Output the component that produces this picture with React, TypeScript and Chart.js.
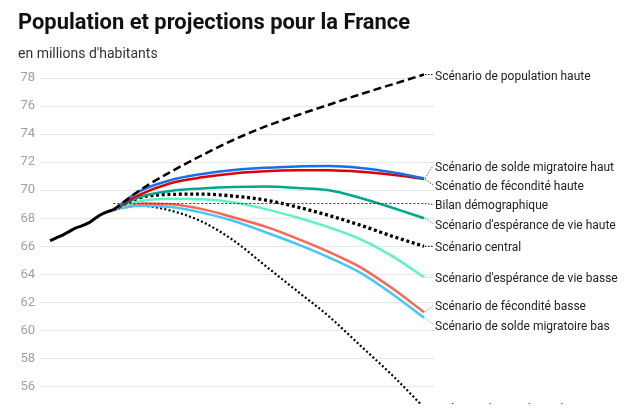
import React, { useRef, useEffect } from "react";
import { Chart, registerables } from "chart.js";

Chart.register(...registerables);

const histYears = [2011, 2012, 2013, 2014, 2015, 2016, 2017, 2018, 2019, 2020, 2021];
const histValues = [66.4, 66.6, 66.8, 67.05, 67.3, 67.45, 67.65, 67.95, 68.25, 68.45, 68.6];

const projYears = [2021, 2025, 2030, 2035, 2040, 2045, 2050, 2055, 2060, 2065, 2070];
const popHaute = [68.6, 69.95, 71.3, 72.5, 73.6, 74.55, 75.35, 76.1, 76.85, 77.55, 78.25];
const soldeHaut = [68.6, 69.9, 70.72, 71.16, 71.45, 71.6, 71.7, 71.72, 71.58, 71.28, 70.85];
const fecHaute = [68.6, 69.65, 70.5, 70.92, 71.2, 71.35, 71.42, 71.43, 71.32, 71.1, 70.8];
const evHaute = [68.6, 69.5, 69.95, 70.13, 70.23, 70.26, 70.15, 70.0, 69.45, 68.75, 68.0];
const central = [68.6, 69.45, 69.7, 69.72, 69.58, 69.3, 68.8, 68.2, 67.5, 66.72, 66.0];
const evBasse = [68.6, 69.2, 69.4, 69.35, 69.12, 68.65, 68.05, 67.35, 66.5, 65.3, 63.8];
const fecBasse = [68.6, 69.05, 69.0, 68.65, 68.05, 67.4, 66.55, 65.6, 64.5, 63.0, 61.3];
const soldeBas = [68.6, 68.9, 68.8, 68.4, 67.8, 67.0, 66.15, 65.2, 64.1, 62.6, 60.9];
const popBasse = [68.6, 68.9, 68.55, 67.75, 66.4, 64.6, 62.8, 61.0, 58.9, 56.8, 54.5];

const bilanYears = [2021, 2070];
const bilanValues = [69.05, 69.05];

const yTicks = [56, 58, 60, 62, 64, 66, 68, 70, 72, 74, 76, 78];

const toPoints = (xs: number[], ys: number[]) => xs.map((x, i) => ({ x, y: ys[i] }));

// labels at the end of each line, pushed apart when they overlap
const endLabels = {
  id: "endLabels",
  afterDatasetsDraw(chart: any) {
    const { ctx, chartArea } = chart;
    const gap = 19.3;
    const items: any[] = [];
    chart.data.datasets.forEach((ds: any, i: number) => {
      if (!ds.label) return;
      const meta = chart.getDatasetMeta(i);
      const pt = meta.data[meta.data.length - 1];
      items.push({ text: ds.label, color: ds.labelColor || ds.borderColor, x: pt.x, y: pt.y, ly: pt.y });
    });
    items.sort((a, b) => a.y - b.y);

    const clusters = items.map((it) => ({ items: [it], sum: it.y }));
    const top = (c: any) => c.sum / c.items.length - ((c.items.length - 1) * gap) / 2;
    let merged = true;
    while (merged) {
      merged = false;
      for (let i = 1; i < clusters.length; i++) {
        const a = clusters[i - 1];
        const b = clusters[i];
        const aBottom = top(a) + (a.items.length - 1) * gap;
        if (top(b) - aBottom < gap) {
          a.items = a.items.concat(b.items);
          a.sum += b.sum;
          clusters.splice(i, 1);
          merged = true;
          break;
        }
      }
    }
    clusters.forEach((c) => {
      const t = top(c);
      c.items.forEach((it: any, k: number) => (it.ly = t + k * gap));
    });

    ctx.save();
    items.forEach((it) => {
      ctx.beginPath();
      ctx.setLineDash([1.5, 1.5]);
      ctx.lineWidth = 1;
      ctx.strokeStyle = it.color;
      ctx.moveTo(it.x + 1, it.y);
      ctx.lineTo(chartArea.right - 1, it.ly);
      ctx.stroke();
    });
    ctx.setLineDash([]);
    ctx.fillStyle = "#222";
    ctx.font = "12px Roboto";
    ctx.textBaseline = "middle";
    ctx.textAlign = "left";
    items.forEach((it) => ctx.fillText(it.text, chartArea.right + 1, it.ly + 2));
    ctx.restore();
  },
};

export default function App() {
  const canvasRef = useRef<HTMLCanvasElement>(null);

  useEffect(() => {
    const canvas = canvasRef.current;
    if (!canvas) return;
    Chart.defaults.font.family = "Roboto";

    const line = (label: string, xs: number[], ys: number[], color: string, width: number, dash: number[] = []) => ({
      label,
      data: toPoints(xs, ys),
      borderColor: color,
      borderWidth: width,
      borderDash: dash,
      pointRadius: 0,
      fill: false,
      cubicInterpolationMode: "monotone",
    });

    const chart = new Chart(canvas, {
      type: "line",
      data: {
        datasets: [
          { ...line("", histYears, histValues, "#000", 3), label: undefined },
          line("Scénario de population haute", projYears, popHaute, "#000", 2.5, [8, 4]),
          line("Scénario de solde migratoire haut", projYears, soldeHaut, "#1670ee", 2.5),
          line("Scénatio de fécondité haute", projYears, fecHaute, "#e00000", 2.5),
          { ...line("Bilan démographique", bilanYears, bilanValues, "#333", 1, [2, 2]), labelColor: "#333" },
          line("Scénario d'espérance de vie haute", projYears, evHaute, "#00a88c", 2.5),
          line("Scénario central", projYears, central, "#000", 3.3, [3, 2.7]),
          line("Scénario d'espérance de vie basse", projYears, evBasse, "#5ef2c8", 2.5),
          line("Scénario de fécondité basse", projYears, fecBasse, "#ff6450", 2.5),
          line("Scénario de solde migratoire bas", projYears, soldeBas, "#42c8ff", 2.5),
          line("Scénario de population basse", projYears, popBasse, "#000", 2.2, [2, 2.3]),
        ] as any,
      },
      options: {
        animation: false,
        responsive: false,
        layout: { autoPadding: false, padding: { left: 10, right: 185, top: 0, bottom: 0 } },
        plugins: {
          legend: { display: false },
          tooltip: { enabled: false },
          title: {
            display: true,
            text: "Population et projections pour la France",
            align: "start",
            color: "#111",
            font: { size: 21.9, weight: "bold" },
            padding: { top: 2, bottom: 10.3 },
          },
          subtitle: {
            display: true,
            text: "en millions d'habitants",
            align: "start",
            color: "#333",
            font: { size: 14 },
            padding: { top: 0, bottom: 6 },
          },
        },
        scales: {
          x: { type: "linear", min: 2009.42, max: 2071.58, display: false },
          y: {
            min: 54.75,
            max: 78.62,
            afterBuildTicks: (scale: any) => {
              scale.ticks = yTicks.map((v) => ({ value: v }));
            },
            afterFit: (scale: any) => {
              scale.width = 22;
              scale.paddingTop = 0;
              scale.paddingBottom = 0;
            },
            grid: { color: "#e6e6e6", drawTicks: false },
            border: { display: false },
            ticks: { color: "#a0a0a0", font: { size: 13 }, padding: 5 },
          },
        },
      },
      plugins: [endLabels],
    });

    return () => chart.destroy();
  }, []);

  return <canvas ref={canvasRef} width={611} height={396} style={{ display: "block" }} />;
}
